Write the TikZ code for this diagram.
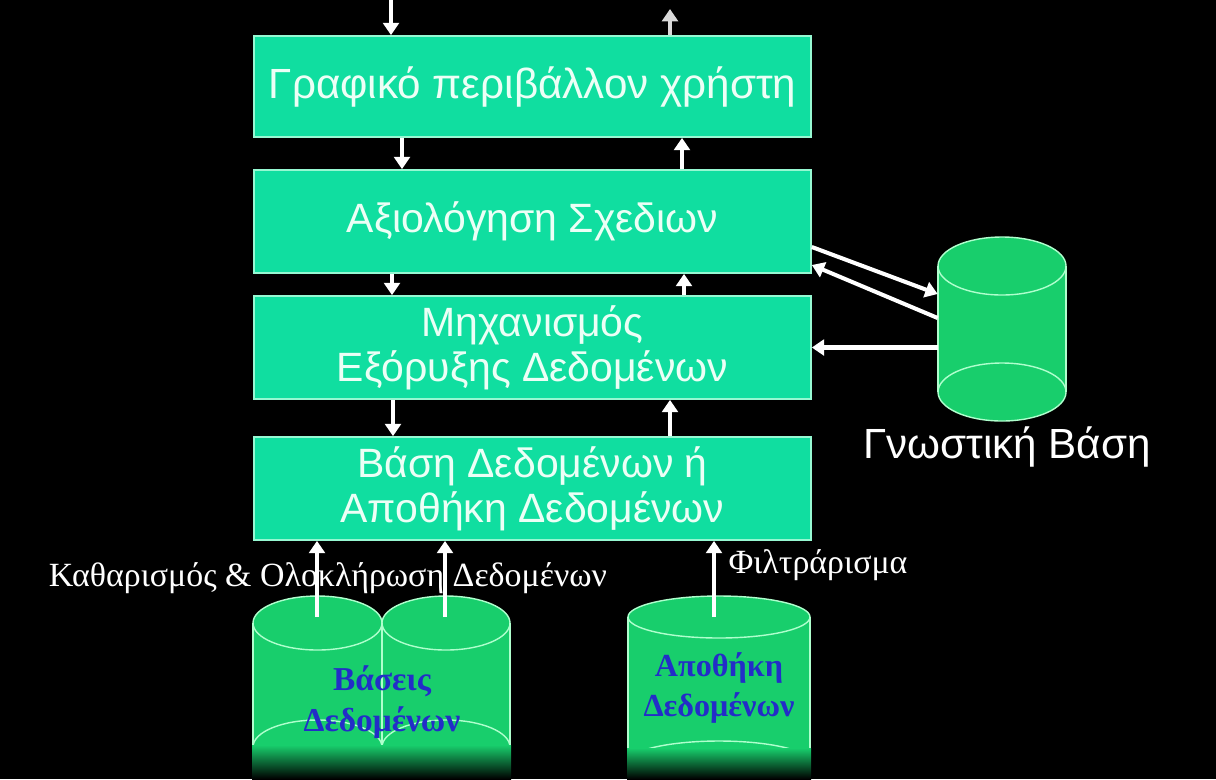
\documentclass[tikz,border=0pt]{standalone}
\usepackage{fontspec}
\setmainfont{Liberation Serif}
\setsansfont{Liberation Sans}
\usetikzlibrary{arrows.meta,positioning,calc}
\definecolor{boxfill}{RGB}{16,222,160}
\definecolor{boxline}{RGB}{150,248,210}
\definecolor{boxtext}{RGB}{236,255,246}
\definecolor{cylgreen}{RGB}{24,206,108}
\definecolor{cylline}{RGB}{175,255,205}
\definecolor{dbblue}{RGB}{35,45,200}
\tikzset{
    layer/.style={
        draw=boxline,line width=1pt,fill=boxfill,
        minimum width=11.14cm,minimum height=2.06cm,inner sep=0pt,
        align=center,text=boxtext,font=\sffamily\fontsize{23.3}{25.5}\selectfont
    },
    flow/.style={
        -{Triangle[length=7pt,width=9pt]},line width=2.3pt,draw=white
    },
    cylside/.style={draw=cylline,line width=0.8pt},
    dblabel/.style={
        align=center,text=dbblue,inner sep=0pt,
        font=\bfseries\fontsize{19}{23}\selectfont
    },
    steplabel/.style={text=white,inner sep=0pt,font=\fontsize{19.3}{22}\selectfont}
}
\begin{document}
\begin{tikzpicture}[x=0.02cm,y=-0.02cm]

\fill[black,use as bounding box] (0,0) rectangle (1216,779);

% layers of the system
\node[layer,minimum height=2.02cm,font=\sffamily\fontsize{24}{28}\selectfont]
(gui) at (532.5,86.5) {Γραφικό περιβάλλον χρήστη};
\node[layer] (eval) at (532.5,221.5) {Αξιολόγηση Σχεδιων};
\node[layer] (mine) at (532.5,347.5) {Μηχανισμός\\Εξόρυξης Δεδομένων};
\node[layer] (db) at (532.5,488.5) {Βάση Δεδομένων ή\\Αποθήκη Δεδομένων};

% cylinders
\foreach \cx/\ct/\cb/\rx/\ry in
{1002/266/392/64/29, 317.5/623/747/64.5/27, 446/623/747/64/27, 719/617/762/91/21}{
    \fill[cylgreen] (\cx-\rx,\ct) -- (\cx-\rx,\cb)
        arc[start angle=180,end angle=360,x radius=\rx*0.02cm,y radius=\ry*0.02cm]
        -- (\cx+\rx,\ct) -- cycle;
    \fill[cylgreen] (\cx,\ct) ellipse[x radius=\rx*0.02cm,y radius=\ry*0.02cm];
    \draw[cylside] (\cx,\ct) ellipse[x radius=\rx*0.02cm,y radius=\ry*0.02cm];
    \draw[cylside] (\cx,\cb) ellipse[x radius=\rx*0.02cm,y radius=\ry*0.02cm];
    \draw[cylside] (\cx-\rx,\ct) -- (\cx-\rx,\cb) (\cx+\rx,\ct) -- (\cx+\rx,\cb);
}
\shade[top color=cylgreen,bottom color=black] (252,745) rectangle (511,779);
\shade[top color=cylgreen,bottom color=black] (627,748) rectangle (811,779);

\node[minimum width=2.56cm,minimum height=2.52cm,inner sep=0pt] (kb) at (1002,329) {};
\node[text=white,inner sep=0pt,font=\sffamily\fontsize{24}{28}\selectfont]
(kbl) at (1007,447) {Γνωστική Βάση};

\node[dblabel] (dbs) at (382,702) {Βάσεις\\Δεδομένων};
\node[dblabel,font=\bfseries\fontsize{18.3}{22.5}\selectfont]
(whs) at (719,688) {Αποθήκη\\Δεδομένων};

\node[steplabel] (clean) at (328,578) {Καθαρισμός \& Ολοκλήρωση Δεδομένων};
\node[steplabel] (filt) at (818,565) {Φιλτράρισμα};

% arrows between layers
\coordinate (in) at (391,0);
\coordinate (out) at (670,9);
\coordinate (c1) at (402,0);
\coordinate (c2) at (682,0);
\coordinate (c3) at (392,0);
\coordinate (c4) at (684,0);
\coordinate (c5) at (393,0);
\coordinate (c6) at (670,0);
\draw[flow] (in) -- (gui.north -| in);
\draw[flow,draw=white!70!gray] (gui.north -| out) -- (out);
\draw[flow] (gui.south -| c1) -- (eval.north -| c1);
\draw[flow] (eval.north -| c2) -- (gui.south -| c2);
\draw[flow] (eval.south -| c3) -- (mine.north -| c3);
\draw[flow] (mine.north -| c4) -- (eval.south -| c4);
\draw[flow] (mine.south -| c5) -- (db.north -| c5);
\draw[flow] (db.north -| c6) -- (mine.south -| c6);

% knowledge base
\draw[flow] ([yshift=-0.51cm]eval.east) -- ([yshift=0.7cm]kb.west);
\draw[flow] ([yshift=0.22cm]kb.west) -- ([yshift=-0.87cm]eval.east);
\draw[flow] (kb.west |- mine.east) -- (mine.east);

% sources
\coordinate (s1) at (317,617);
\coordinate (s2) at (445,617);
\coordinate (s3) at (714,617);
\draw[flow] (s1) -- (s1 |- db.south);
\draw[flow] (s2) -- (s2 |- db.south);
\draw[flow] (s3) -- (s3 |- db.south);

\end{tikzpicture}
\end{document}
